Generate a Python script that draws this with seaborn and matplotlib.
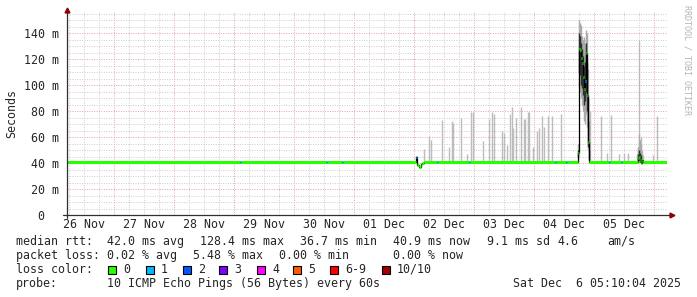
import matplotlib
matplotlib.use("Agg")
import matplotlib.pyplot as plt
import pandas as pd
import seaborn as sns
from matplotlib.patches import Rectangle

# ---------------- data (x = hours since 26 Nov 05:10:04, graph spans 240 h) ----------------
day_labels = ["26 Nov", "27 Nov", "28 Nov", "29 Nov", "30 Nov",
              "01 Dec", "02 Dec", "03 Dec", "04 Dec", "05 Dec"]
first_midnight = 18.832          # 27 Nov 00:00 in hours after the start
span_hours = 240.0

y_ticks = [0, 20, 40, 60, 80, 100, 120, 140]
y_labels = ["0  ", "20 m", "40 m", "60 m", "80 m", "100 m", "120 m", "140 m"]

# median rtt (ms) step series: segment start time, value, loss count
med_t = [0.0, 69.2, 69.6, 103.6, 104.0, 110.0, 110.4, 139.6, 140.0, 140.8,
         141.4, 142.0, 142.6, 148.0, 148.4, 160.8, 161.2, 195.2, 195.6, 199.6,
         200.0, 204.4, 204.8, 205.2, 205.6, 206.0, 206.4, 206.8, 207.2, 207.6,
         208.0, 208.4, 208.8, 216.8, 217.2, 221.6, 222.0, 228.4, 228.8, 229.2,
         229.6, 230.0, 230.4]
med_v = [41, 41, 41, 41, 41, 41, 41, 45, 38.5, 37,
         39, 39.7, 41, 41, 41, 41, 41, 41, 41, 41,
         41, 48, 128, 127, 121, 117, 106, 97, 103, 125,
         92, 56, 41, 41, 41, 41, 41, 43.5, 44.5, 42,
         40, 42.5, 41]
med_loss = [0, 1, 0, 1, 0, 1, 0, 1, 0, 0,
            0, 0, 0, 1, 0, 1, 0, 1, 0, 1,
            0, 0, 0, 0, 0, 0, 0, 0, 1, 0,
            0, 0, 0, 1, 0, 1, 0, 0, 0, 0,
            0, 0, 0]

# isolated smoke spikes (max ping, ms)
spike_t = [142.8, 144.8, 145.6, 150.0, 152.8, 154.0, 154.4, 157.6, 160.0, 161.6,
           162.4, 166.4, 168.8, 170.0, 170.8, 174.0, 174.8, 176.0, 177.2, 178.0,
           178.4, 179.6, 181.6, 182.8, 183.2, 184.4, 184.8, 186.4, 188.0, 188.8,
           190.0, 190.8, 192.4, 194.0, 197.6, 209.2, 213.6, 216.0, 217.6, 220.8,
           222.8, 224.4, 228.0, 228.4, 228.8, 229.2, 229.6, 230.0, 230.4, 234.4,
           236.0]
spike_top = [51, 61, 58, 73, 52, 72, 71, 75, 47, 79,
             79, 57, 74, 79, 78, 65, 63, 54, 78, 83,
             67, 75, 83, 74, 74, 79, 79, 52, 65, 67,
             76, 68, 76, 76, 78, 80, 76, 48, 77, 47,
             48, 48, 47, 52, 135, 58, 60, 50, 46, 46,
             76]

# dense smoke of the 04 Dec burst and 05 Dec evening
burst_t = [204.4, 204.8, 205.2, 205.6, 206.0, 206.4, 206.8, 207.2, 207.6, 208.0,
           208.4, 208.8, 228.4, 228.8, 229.2, 229.6]
burst_lo = [44, 98, 95, 90, 85, 80, 72, 70, 78, 68, 50, 44, 41, 41, 41, 40]
burst_hi = [55, 150, 148, 146, 138, 135, 137, 132, 142, 140, 112, 72, 52, 62, 58, 55]
core_lo = [45, 110, 108, 100, 98, 92, 85, 88, 95, 80, 52, 42, 42, 42, 41, 40]
core_hi = [50, 140, 138, 132, 128, 122, 115, 118, 132, 118, 90, 50, 47, 50, 48, 46]

loss_colors = {0: "#26ff00", 1: "#00b8ff", 2: "#0059ff", 3: "#7e00ff",
               4: "#ff00ff", 5: "#ff5e00", 6: "#ff0000", 10: "#a00000"}
loss_names = ["0", "1", "2", "3", "4", "5", "6-9", "10/10"]
loss_keys = [0, 1, 2, 3, 4, 5, 6, 10]

rtt_stats = ["42.0 ms avg", "128.4 ms max", "36.7 ms min", "40.9 ms now",
             "9.1 ms sd", "4.6", "am/s"]
loss_stats = ["0.02 % avg", "5.48 % max", "0.00 % min", "0.00 % now"]
probe_text = "10 ICMP Echo Pings (56 Bytes) every 60s"
stamp_text = "Sat Dec  6 05:10:04 2025"

# ---------------- styling ----------------
sns.set_style("white")
plt.rcParams["font.family"] = ["DejaVu Sans Mono", "DejaVu Sans"]
FS = 8.4
W, H = 697, 297

fig = plt.figure(figsize=(W / 100, H / 100), dpi=100)
fig.patch.set_facecolor("white")
ax = fig.add_axes([67 / W, (H - 215) / H, 600 / W, 203 / H])
ax.set_xlim(0, span_hours)
ax.set_ylim(0, 156.2)
for s in ax.spines.values():
    s.set_visible(False)

midnights = [first_midnight + 24 * k for k in range(len(day_labels))]
noons = [first_midnight - 12 + 24 * k for k in range(len(day_labels))]
quarters = [first_midnight - 18 + 6 * k for k in range(40)]
ax.set_xticks(midnights)
ax.set_xticks(quarters, minor=True)
ax.set_yticks(y_ticks)
ax.set_yticks(list(range(0, 160, 5)), minor=True)
ax.set_yticklabels(y_labels, fontsize=FS)
ax.tick_params(axis="x", which="both", labelbottom=False, length=2,
               color="#c09090", width=0.7)
ax.tick_params(axis="y", which="major", length=2, pad=4, color="#c09090", width=0.7)
ax.tick_params(axis="y", which="minor", length=0)
ax.grid(which="minor", color="#cccccc", linestyle=(0, (1, 1.5)), linewidth=0.7)
ax.grid(which="major", color="#e3a3a3", linestyle=(0, (1, 1.5)), linewidth=0.7)
ax.set_axisbelow(True)

sec = ax.secondary_xaxis("bottom")
sec.set_xticks(noons, labels=day_labels)
sec.tick_params(length=0, pad=2, labelsize=FS)
sec.spines["bottom"].set_visible(False)

# smoke
ax.vlines(spike_t, 41.5, spike_top, colors="#bcbcbc", linewidth=1.0, zorder=2)
ax.vlines(burst_t, burst_lo, burst_hi, colors="#aaaaaa", linewidth=1.0, zorder=2)
ax.vlines(burst_t, core_lo, core_hi, colors="#303030", linewidth=1.0, zorder=3)

# median: thin black step line, colored by loss on each sample
ends = med_t[1:] + [span_hours]
df = pd.DataFrame({"t": med_t + [span_hours], "v": med_v + [med_v[-1]]})
sns.lineplot(data=df, x="t", y="v", ax=ax, color="black", linewidth=0.9,
             drawstyle="steps-post", estimator=None, sort=False, zorder=4)
ax.hlines(med_v, med_t, ends, colors=[loss_colors[l] for l in med_loss],
          linewidth=2.2, zorder=5)
ax.set_xlabel("")
ax.set_ylabel("Seconds", fontsize=FS)
ax.yaxis.set_label_coords(-0.082, 0.5)

# axis lines with arrows
ax.plot([-0.007, 1.005], [0, 0], transform=ax.transAxes, color="#303030",
        linewidth=0.9, clip_on=False, zorder=6)
ax.plot([0, 0], [-0.015, 1.005], transform=ax.transAxes, color="#303030",
        linewidth=0.9, clip_on=False, zorder=6)
ax.plot([1.009], [0], transform=ax.transAxes, marker=">", markersize=3.5,
        color="#8b0000", clip_on=False, zorder=7)
ax.plot([0], [1.012], transform=ax.transAxes, marker="^", markersize=3.5,
        color="#8b0000", clip_on=False, zorder=7)

# watermark
fig.text(687.5 / W, 1 - 60 / H, "RRDTOOL / TOBI OETIKER", rotation=270,
         ha="center", va="center", fontsize=6, color="#b4b4b4")

# legend block
def ftext(x, y, s, **kw):
    fig.text(x / W, 1 - y / H, s, fontsize=FS, va="baseline", ha="left", **kw)

ftext(16, 245, "median rtt:")
for x, s in zip([107, 200, 300, 393, 487, 557, 607], rtt_stats):
    ftext(x, 245, s)
ftext(16, 259, "packet loss:")
for x, s in zip([107, 193, 279, 393], loss_stats):
    ftext(x, 259, s)
ftext(16, 273, "loss color:")
box_x = [108, 146, 183, 219, 257, 293, 330, 382]
for bx, key, name in zip(box_x, loss_keys, loss_names):
    fig.patches.append(Rectangle((bx / W, 1 - 273.5 / H), 8 / W, 8 / H,
                                 transform=fig.transFigure, facecolor=loss_colors[key],
                                 edgecolor="black", linewidth=0.8))
    ftext(bx + 15, 273, name)
ftext(16, 287, "probe:")
ftext(107, 287, probe_text)
ftext(513, 287, stamp_text)

fig.savefig("out.png", dpi=100, facecolor="white")
